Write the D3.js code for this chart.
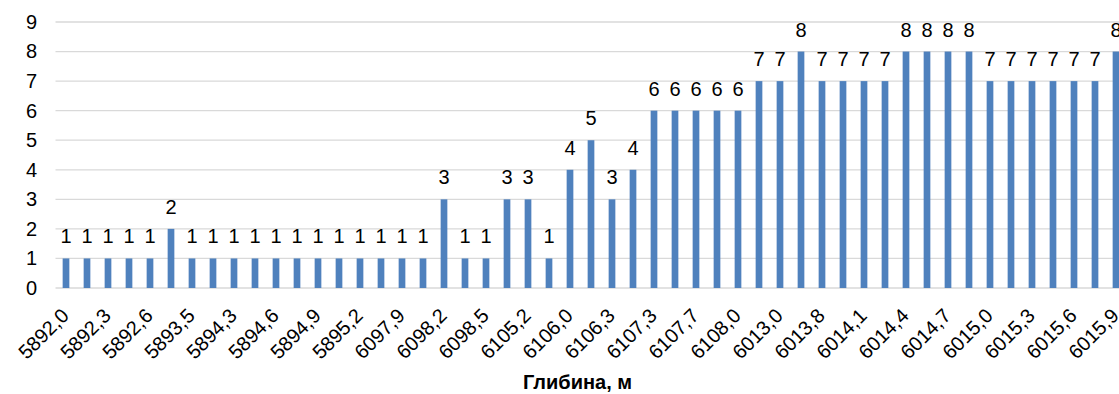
<!DOCTYPE html>
<html><head><meta charset="utf-8">
<script src="https://cdn.jsdelivr.net/npm/d3@7"></script>
<style>body{margin:0;background:#fff}svg{display:block}</style>
</head><body>
<svg id="c" width="1119" height="394"></svg>
<script>
const categories = ["5892,0","5892,1","5892,3","5892,4","5892,6","5893,0","5893,5","5893,9","5894,3","5894,4",
"5894,6","5894,7","5894,9","5895,0","5895,2","5895,5","6097,9","6098,0","6098,2","6098,3",
"6098,5","6105,0","6105,2","6105,5","6106,0","6106,1","6106,3","6107,0","6107,3","6107,5",
"6107,7","6107,9","6108,0","6012,5","6013,0","6013,5","6013,8","6013,9","6014,1","6014,2",
"6014,4","6014,5","6014,7","6014,8","6015,0","6015,1","6015,3","6015,4","6015,6","6015,7","6015,9"];
const values = [1,1,1,1,1,2,1,1,1,1,1,1,1,1,1,1,1,1,3,1,1,3,3,1,4,5,3,4,6,6,6,6,6,7,7,8,7,7,7,7,8,8,8,8,7,7,7,7,7,7,8];
const yTicks = [0,1,2,3,4,5,6,7,8,9];
const xTitle = "Глибина, м";

const svg = d3.select("#c");
const font = "'Liberation Sans', Arial, sans-serif";
const left = 55.5, step = 21;
const right = left + step * categories.length;
const x = d3.scaleBand().domain(categories).range([left, right]).paddingInner(0.68).paddingOuter(0.34);
const y = d3.scaleLinear().domain([0, 9]).range([288, 22]);

// gridlines
svg.append("g").selectAll("line").data(yTicks).join("line")
  .attr("x1", left).attr("x2", right)
  .attr("y1", d => y(d)).attr("y2", d => y(d))
  .attr("stroke", "#d9d9d9").attr("stroke-width", 1.3);

// y axis labels
const yAxis = d3.axisLeft(y).tickValues(yTicks).tickSize(0).tickPadding(0).tickFormat(d3.format("d"));
const yg = svg.append("g").attr("transform", "translate(37,0)").call(yAxis);
yg.select(".domain").remove();
yg.selectAll("text").attr("font-family", font).attr("font-size", 20).attr("fill", "#000");

// bars
const bw = 6.7;
svg.append("g").selectAll("rect").data(values).join("rect")
  .attr("x", (d, i) => x(categories[i]) + x.bandwidth() / 2 - bw / 2)
  .attr("width", bw)
  .attr("y", d => y(d))
  .attr("height", d => y(0) - y(d))
  .attr("fill", "#4f81bd");

// data labels
svg.append("g").selectAll("text").data(values).join("text")
  .attr("x", (d, i) => x(categories[i]) + x.bandwidth() / 2)
  .attr("y", d => y(d) - 15)
  .attr("text-anchor", "middle")
  .attr("font-family", font).attr("font-size", 20).attr("fill", "#000")
  .text(d => d);

// x labels (every other)
const xAxis = d3.axisBottom(x).tickValues(categories.filter((c, i) => i % 2 === 0)).tickSize(0).tickPadding(0);
const xg = svg.append("g").call(xAxis);
xg.select(".domain").remove();
xg.selectAll(".tick text")
  .attr("font-family", font).attr("font-size", 20).attr("fill", "#000")
  .attr("text-anchor", "end").attr("dy", null).attr("y", 0)
  .attr("transform", "translate(4,317) rotate(-45)");

svg.append("text").attr("x", 577.5).attr("y", 389).attr("text-anchor", "middle")
  .attr("font-family", font).attr("font-size", 20).attr("font-weight", "bold").attr("fill", "#000")
  .text(xTitle);
</script>
</body></html>
